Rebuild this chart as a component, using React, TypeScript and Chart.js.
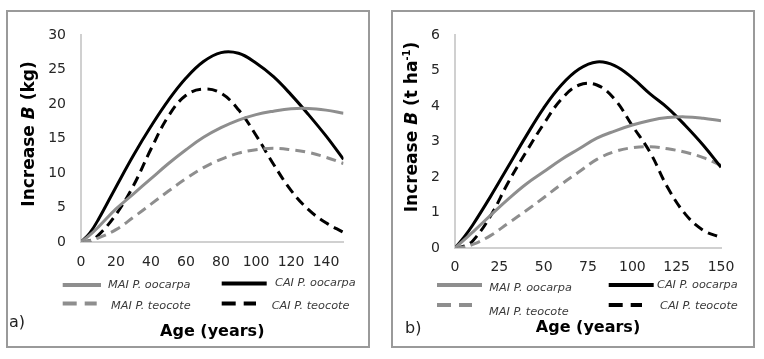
import React, { useEffect, useRef } from 'react';
import { Chart, registerables } from 'chart.js';

Chart.register(...registerables);

// ---------- DATA ----------
const AGES = [0, 5, 10, 20, 30, 40, 50, 60, 70, 80, 90, 100, 110, 120, 130, 140, 150];
const SERIES_NAMES = ['MAI P. oocarpa', 'CAI P. oocarpa', 'MAI P. teocote', 'CAI P. teocote'];

// Panel a) Increase B (kg)
const KG_MAI_OOCARPA = [0, 1.0, 2.2, 4.8, 7.0, 9.2, 11.4, 13.4, 15.2, 16.6, 17.7, 18.5, 19.0, 19.35, 19.4, 19.15, 18.7];
const KG_CAI_OOCARPA = [0, 1.3, 3.3, 8.0, 12.6, 16.8, 20.6, 23.8, 26.2, 27.5, 27.4, 26.0, 24.0, 21.4, 18.5, 15.4, 12.0];
const KG_MAI_TEOCOTE = [0, 0.2, 0.6, 1.8, 3.6, 5.5, 7.4, 9.2, 10.8, 12.0, 12.9, 13.4, 13.6, 13.4, 13.0, 12.3, 11.4];
const KG_CAI_TEOCOTE = [0, 0.2, 1.0, 4.0, 8.2, 13.5, 18.3, 21.3, 22.2, 21.6, 19.2, 15.5, 11.3, 7.5, 4.7, 2.8, 1.4];

// Panel b) Increase B (t ha-1)
const T_MAI_OOCARPA = [0, 0.22, 0.45, 0.92, 1.38, 1.8, 2.15, 2.5, 2.8, 3.1, 3.3, 3.47, 3.6, 3.68, 3.7, 3.66, 3.59];
const T_CAI_OOCARPA = [0, 0.3, 0.65, 1.45, 2.3, 3.15, 3.95, 4.6, 5.05, 5.25, 5.15, 4.8, 4.35, 3.95, 3.45, 2.9, 2.28];
const T_MAI_TEOCOTE = [0, 0.03, 0.1, 0.35, 0.7, 1.05, 1.42, 1.8, 2.15, 2.5, 2.72, 2.83, 2.86, 2.8, 2.7, 2.55, 2.33];
const T_CAI_TEOCOTE = [0, 0.05, 0.2, 0.9, 1.85, 2.7, 3.5, 4.2, 4.6, 4.6, 4.2, 3.45, 2.7, 1.7, 0.95, 0.5, 0.3];

const X_TICKS_A = [0, 20, 40, 60, 80, 100, 120, 140];
const Y_TICKS_A = [0, 5, 10, 15, 20, 25, 30];
const X_TICKS_B = [0, 25, 50, 75, 100, 125, 150];
const Y_TICKS_B = [0, 1, 2, 3, 4, 5, 6];

// ---------- STYLE ----------
const GRAY = '#8e8e8e';
const BLACK = '#000000';
const SERIES_COLORS = [GRAY, BLACK, GRAY, BLACK];
const SERIES_DASH = [[], [], [10, 6], [10, 6]];
const LEGEND_DASH = [[], [], [14, 8], [14, 8]];
const FONT = '"DejaVu Sans", Verdana, sans-serif';

type LegendPos = { x1: number; x2: number; y: number; tx: number; ty: number };

type PanelCfg = {
  left: number;
  series: number[][];
  xTicks: number[];
  yTicks: number[];
  xMax: number;
  yMax: number;
  tag: string;
  tagPos: [number, number];
  yTitleParts: { text: string; font: string; dy?: number }[];
  yTitleCenter: [number, number];
  chartLeft: number;
  padRight: number;
  padTop: number;
  xAxisHeight: number;
  xTickPad: number;
  yTickPad: number;
  xTitlePadBottom: number;
  legend: LegendPos[];
};

const W = 360;
const H = 334;

const PANELS: PanelCfg[] = [
  {
    left: 6,
    series: [KG_MAI_OOCARPA, KG_CAI_OOCARPA, KG_MAI_TEOCOTE, KG_CAI_TEOCOTE],
    xTicks: X_TICKS_A,
    yTicks: Y_TICKS_A,
    xMax: 150,
    yMax: 30,
    tag: 'a)',
    tagPos: [1, 311],
    yTitleParts: [
      { text: 'Increase ', font: `bold 17px ${FONT}` },
      { text: 'B', font: `italic bold 17px ${FONT}` },
      { text: ' (kg)', font: `bold 17px ${FONT}` },
    ],
    yTitleCenter: [22, 122],
    chartLeft: 73,
    padRight: 24.5,
    padTop: 18,
    xAxisHeight: 104,
    xTickPad: 11.5,
    yTickPad: 15,
    xTitlePadBottom: 4.4,
    legend: [
      { x1: 54.7, x2: 93, y: 273, tx: 100, ty: 273 },
      { x1: 213.7, x2: 258.7, y: 271.5, tx: 267, ty: 271.5 },
      { x1: 54.7, x2: 88.7, y: 291.5, tx: 103, ty: 294.5 },
      { x1: 213.7, x2: 248, y: 291.5, tx: 263.7, ty: 294.5 },
    ],
  },
  {
    left: 391,
    series: [T_MAI_OOCARPA, T_CAI_OOCARPA, T_MAI_TEOCOTE, T_CAI_TEOCOTE],
    xTicks: X_TICKS_B,
    yTicks: Y_TICKS_B,
    xMax: 150,
    yMax: 6,
    tag: 'b)',
    tagPos: [12, 317],
    yTitleParts: [
      { text: 'Increase ', font: `bold 17px ${FONT}` },
      { text: 'B', font: `italic bold 17px ${FONT}` },
      { text: ' (t ha', font: `bold 17px ${FONT}` },
      { text: '-1', font: `bold 10px ${FONT}`, dy: -6 },
      { text: ')', font: `bold 17px ${FONT}` },
    ],
    yTitleCenter: [20, 115],
    chartLeft: 62,
    padRight: 32,
    padTop: 18,
    xAxisHeight: 98,
    xTickPad: 10.5,
    yTickPad: 15,
    xTitlePadBottom: 8.4,
    legend: [
      { x1: 44, x2: 89, y: 273, tx: 96.3, ty: 276 },
      { x1: 215.7, x2: 260.7, y: 273, tx: 264, ty: 273 },
      { x1: 44, x2: 79, y: 293, tx: 96, ty: 299.7 },
      { x1: 215.7, x2: 249, y: 293, tx: 267, ty: 294 },
    ],
  },
];

function makeDecorPlugin(cfg: PanelCfg) {
  return {
    id: 'panelDecor',
    afterDraw(chart: any) {
      const ctx: CanvasRenderingContext2D = chart.ctx;
      ctx.save();
      // rich y-axis title
      ctx.translate(cfg.yTitleCenter[0], cfg.yTitleCenter[1]);
      ctx.rotate(-Math.PI / 2);
      ctx.textBaseline = 'middle';
      ctx.textAlign = 'left';
      ctx.fillStyle = '#000';
      let total = 0;
      const widths = cfg.yTitleParts.map((p) => {
        ctx.font = p.font;
        const w = ctx.measureText(p.text).width;
        total += w;
        return w;
      });
      let x = -total / 2;
      cfg.yTitleParts.forEach((p, i) => {
        ctx.font = p.font;
        ctx.fillText(p.text, x, p.dy || 0);
        x += widths[i];
      });
      ctx.restore();

      // legend
      ctx.save();
      chart.data.datasets.forEach((ds: any, i: number) => {
        const pos = cfg.legend[i];
        ctx.beginPath();
        ctx.strokeStyle = ds.borderColor;
        ctx.lineWidth = 4;
        ctx.lineCap = 'butt';
        ctx.setLineDash(LEGEND_DASH[i]);
        ctx.moveTo(pos.x1, pos.y);
        ctx.lineTo(pos.x2, pos.y);
        ctx.stroke();
        ctx.setLineDash([]);
        ctx.font = `italic 11.3px ${FONT}`;
        ctx.fillStyle = '#3a3a3a';
        ctx.textAlign = 'left';
        ctx.textBaseline = 'middle';
        ctx.fillText(ds.label, pos.tx, pos.ty);
      });
      // panel tag
      ctx.font = `16px ${FONT}`;
      ctx.fillStyle = '#222';
      ctx.textAlign = 'left';
      ctx.textBaseline = 'middle';
      ctx.fillText(cfg.tag, cfg.tagPos[0], cfg.tagPos[1]);
      ctx.restore();
    },
  };
}

function Panel({ cfg }: { cfg: PanelCfg }) {
  const ref = useRef<HTMLCanvasElement | null>(null);
  useEffect(() => {
    if (!ref.current) return;
    const datasets = cfg.series.map((vals, i) => ({
      label: SERIES_NAMES[i],
      data: AGES.map((a, j) => ({ x: a, y: vals[j] })),
      borderColor: SERIES_COLORS[i],
      backgroundColor: SERIES_COLORS[i],
      borderWidth: 3,
      borderDash: SERIES_DASH[i],
      borderCapStyle: 'butt',
      pointRadius: 0,
      fill: false,
      tension: 0.4,
    }));
    const chart = new Chart(ref.current, {
      type: 'line',
      data: { datasets: datasets as any },
      options: {
        animation: false,
        responsive: false,
        maintainAspectRatio: false,
        layout: { padding: { left: 0, top: cfg.padTop, right: cfg.padRight, bottom: 0 } },
        plugins: { legend: { display: false }, tooltip: { enabled: false } },
        scales: {
          x: {
            type: 'linear',
            min: 0,
            max: cfg.xMax,
            grid: { display: false, drawTicks: false },
            border: { display: true, color: '#d0d0d0', width: 2 },
            afterBuildTicks: (s: any) => {
              s.ticks = cfg.xTicks.map((v) => ({ value: v }));
            },
            afterFit: (s: any) => {
              s.height = cfg.xAxisHeight;
            },
            ticks: {
              autoSkip: false,
              maxRotation: 0,
              padding: cfg.xTickPad,
              color: '#262626',
              font: { family: FONT, size: 14 },
            },
            title: {
              display: true,
              text: 'Age (years)',
              color: '#000',
              font: { family: FONT, size: 16, weight: 'bold' },
              padding: { top: 0, bottom: cfg.xTitlePadBottom },
            },
          },
          y: {
            type: 'linear',
            min: 0,
            max: cfg.yMax,
            grid: { display: false, drawTicks: false },
            border: { display: true, color: '#d0d0d0', width: 2 },
            afterBuildTicks: (s: any) => {
              s.ticks = cfg.yTicks.map((v) => ({ value: v }));
            },
            afterFit: (s: any) => {
              s.width = cfg.chartLeft;
            },
            ticks: {
              padding: cfg.yTickPad,
              color: '#262626',
              font: { family: FONT, size: 14 },
            },
          },
        },
      } as any,
      plugins: [makeDecorPlugin(cfg)],
    });
    return () => chart.destroy();
  }, [cfg]);

  return (
    <div
      style={{
        position: 'absolute',
        left: cfg.left,
        top: 10,
        width: 364,
        height: 338,
        border: '2px solid #9a9a9a',
        boxSizing: 'border-box',
        background: '#fff',
      }}
    >
      <canvas ref={ref} width={W} height={H} style={{ display: 'block', width: W, height: H }} />
    </div>
  );
}

export default function App() {
  return (
    <div
      style={{
        position: 'absolute',
        left: 0,
        top: 0,
        width: 764,
        height: 359,
        background: '#fff',
        overflow: 'hidden',
      }}
    >
      {PANELS.map((p, i) => (
        <Panel key={i} cfg={p} />
      ))}
    </div>
  );
}
